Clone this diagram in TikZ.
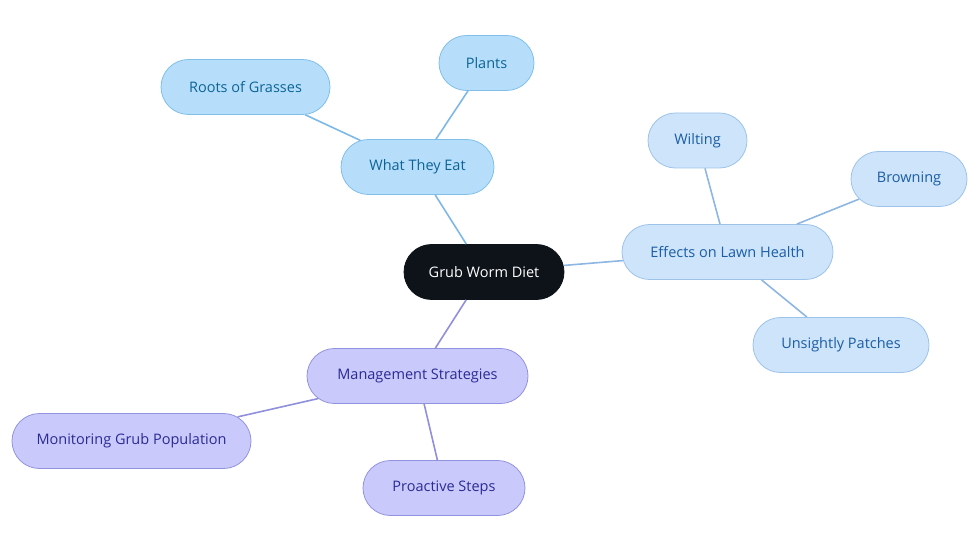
\documentclass[tikz,border=0pt]{standalone}
\usepackage{fontspec}
\setmainfont{Open Sans}
\usetikzlibrary{shapes.misc}
\definecolor{rootfill}{HTML}{0E131A}
\definecolor{afill}{HTML}{B6DEFB}
\definecolor{adraw}{HTML}{80BFEA}
\definecolor{atext}{HTML}{0C6496}
\definecolor{aedge}{HTML}{7DB8E6}
\definecolor{bfill}{HTML}{CDE4FA}
\definecolor{bdraw}{HTML}{9DC3EA}
\definecolor{btext}{HTML}{1B5DA6}
\definecolor{bedge}{HTML}{8DB6E3}
\definecolor{cfill}{HTML}{C9CAFB}
\definecolor{cdraw}{HTML}{9293DE}
\definecolor{ctext}{HTML}{2A2A96}
\definecolor{cedge}{HTML}{8F8FDB}
\tikzset{
  x=1pt,y=-1pt,
  pill/.style={rounded rectangle,minimum height=55pt,inner sep=0pt,font=\fontsize{14.5}{17}\selectfont,line width=0.8pt},
  rootnode/.style={pill,fill=rootfill,draw=rootfill,text=white},
  anode/.style={pill,fill=afill,draw=adraw,text=atext},
  bnode/.style={pill,fill=bfill,draw=bdraw,text=btext},
  cnode/.style={pill,fill=cfill,draw=cdraw,text=ctext},
  aline/.style={draw=aedge,line width=1.6pt},
  bline/.style={draw=bedge,line width=1.6pt},
  cline/.style={draw=cedge,line width=1.6pt},
}
\begin{document}
\begin{tikzpicture}
\useasboundingbox (0,0) rectangle (980,553);
\node[rootnode,minimum width=160pt] (root) at (484,272) {Grub Worm Diet};
\node[anode,minimum width=153pt] (eat) at (417.5,167) {What They Eat};
\node[anode,minimum width=169pt] (roots) at (245.5,87) {Roots of Grasses};
\node[anode,minimum width=95pt] (plants) at (486.5,63) {Plants};
\node[bnode,minimum width=211pt] (lawn) at (727.5,252) {Effects on Lawn Health};
\node[bnode,minimum width=99pt] (wilt) at (697.5,140.5) {Wilting};
\node[bnode,minimum width=116pt] (brown) at (909,179) {Browning};
\node[bnode,minimum width=176pt] (patch) at (841,345) {Unsightly Patches};
\node[cnode,minimum width=221pt] (mgmt) at (417.5,376) {Management Strategies};
\node[cnode,minimum width=239pt] (mon) at (131.5,441) {Monitoring Grub Population};
\node[cnode,minimum width=162pt] (pro) at (444,488) {Proactive Steps};
\path[aline] (root) -- (eat);
\path[aline] (eat) -- (roots);
\path[aline] (eat) -- (plants);
\path[bline] (root) -- (lawn);
\path[bline] (lawn) -- (wilt);
\path[bline] (lawn) -- (brown);
\path[bline] (lawn) -- (patch);
\path[cline] (root) -- (mgmt);
\path[cline] (mgmt) -- (mon);
\path[cline] (mgmt) -- (pro);
\end{tikzpicture}
\end{document}
